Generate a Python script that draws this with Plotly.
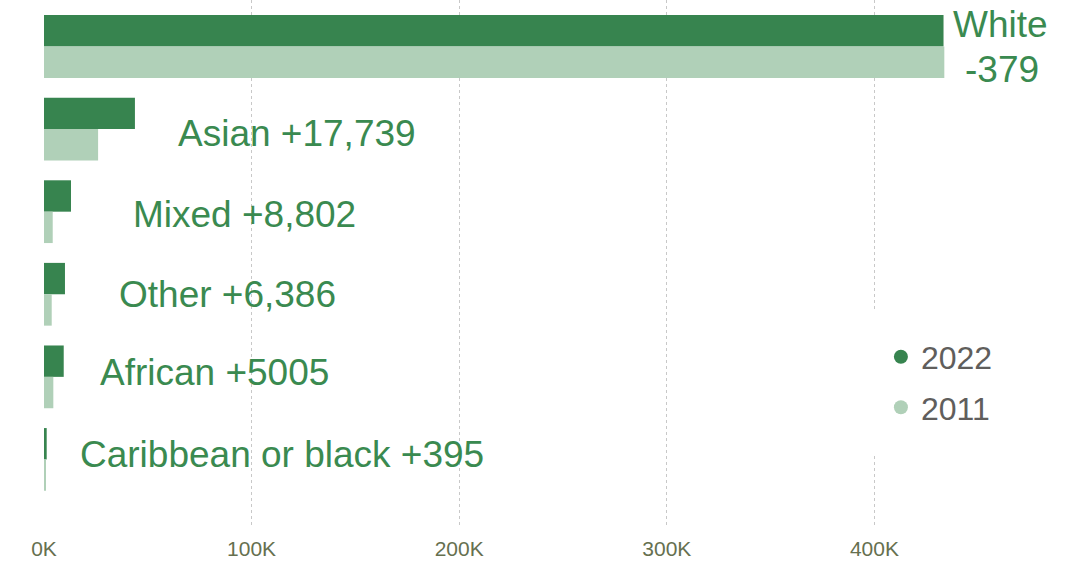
import plotly.graph_objects as go

categories = ["White", "Asian", "Mixed", "Other", "African", "Caribbean or black"]
pop_2022 = [433300, 43800, 13000, 10100, 9500, 1300]
pop_2011 = [433679, 26061, 4198, 3714, 4495, 905]
labels = ["White", "Asian +17,739", "Mixed +8,802", "Other +6,386", "African +5005", "Caribbean or black +395"]
white_change = "-379"
tick_vals = [0, 100000, 200000, 300000, 400000]
tick_text = ["0K", "100K", "200K", "300K", "400K"]

DARK = "#37844F"
LIGHT = "#B0D0B8"
TXT = "#3A8A50"
FONT = "Liberation Sans, Arial, sans-serif"

fig = go.Figure()
fig.add_trace(go.Bar(y=categories, x=pop_2022, orientation="h", name="2022",
                     marker=dict(color=DARK, line=dict(width=0)), showlegend=False))
fig.add_trace(go.Bar(y=categories, x=pop_2011, orientation="h", name="2011",
                     marker=dict(color=LIGHT, line=dict(width=0)), showlegend=False))
# legend entries as dots
fig.add_trace(go.Scatter(x=[None], y=[None], mode="markers", name="2022", legendgroup="a",
                         marker=dict(color=DARK, size=14)))
fig.add_trace(go.Scatter(x=[None], y=[None], mode="markers", name="2011", legendgroup="b",
                         marker=dict(color=LIGHT, size=14)))

# label placement (data units along x) and vertical nudges
label_x = [None, 63500, 41700, 35400, 26000, 16300]
label_shift = [0, -4, -3, 0, 4, 5]
annotations = []
for cat, lab, lx, ys in zip(categories[1:], labels[1:], label_x[1:], label_shift[1:]):
    annotations.append(dict(x=lx, y=cat, text=lab, showarrow=False, xanchor="left", yanchor="middle",
                            yshift=ys, font=dict(size=37, color=TXT, family=FONT)))
annotations.append(dict(x=460700, y=categories[0], text=labels[0], showarrow=False, xanchor="center",
                        yanchor="middle", yshift=22, font=dict(size=37, color=TXT, family=FONT)))
annotations.append(dict(x=461500, y=categories[0], text=white_change, showarrow=False, xanchor="center",
                        yanchor="middle", yshift=-23, font=dict(size=37, color=TXT, family=FONT)))

fig.update_layout(
    width=1086, height=563,
    margin=dict(l=44, r=4, t=0, b=35, autoexpand=False),
    paper_bgcolor="white", plot_bgcolor="white",
    barmode="group", bargap=0.24, bargroupgap=0,
    font=dict(family=FONT),
    annotations=annotations,
    showlegend=True,
    legend=dict(x=0.787, y=0.414, xanchor="left", yanchor="top",
                bgcolor="white", bordercolor="white", borderwidth=20, tracegroupgap=6,
                traceorder="grouped",
                font=dict(size=32, color="#605E5C", family=FONT), itemsizing="trace"),
    xaxis=dict(range=[0, 500000], tickvals=tick_vals, ticktext=tick_text, showgrid=True,
               gridcolor="#C8C8C8", griddash="dot", gridwidth=1, zeroline=False, showline=False,
               tickfont=dict(size=21, color="#66704F", family=FONT), ticks="", automargin=False,
               ticklabelstandoff=6),
    yaxis=dict(type="category", range=[5.83, -0.563], showticklabels=False, showgrid=False,
               zeroline=False, showline=False, ticks="", automargin=False),
)

fig.write_html("out.html", config={"displayModeBar": False},
               post_script="document.body.style.margin='0';")
